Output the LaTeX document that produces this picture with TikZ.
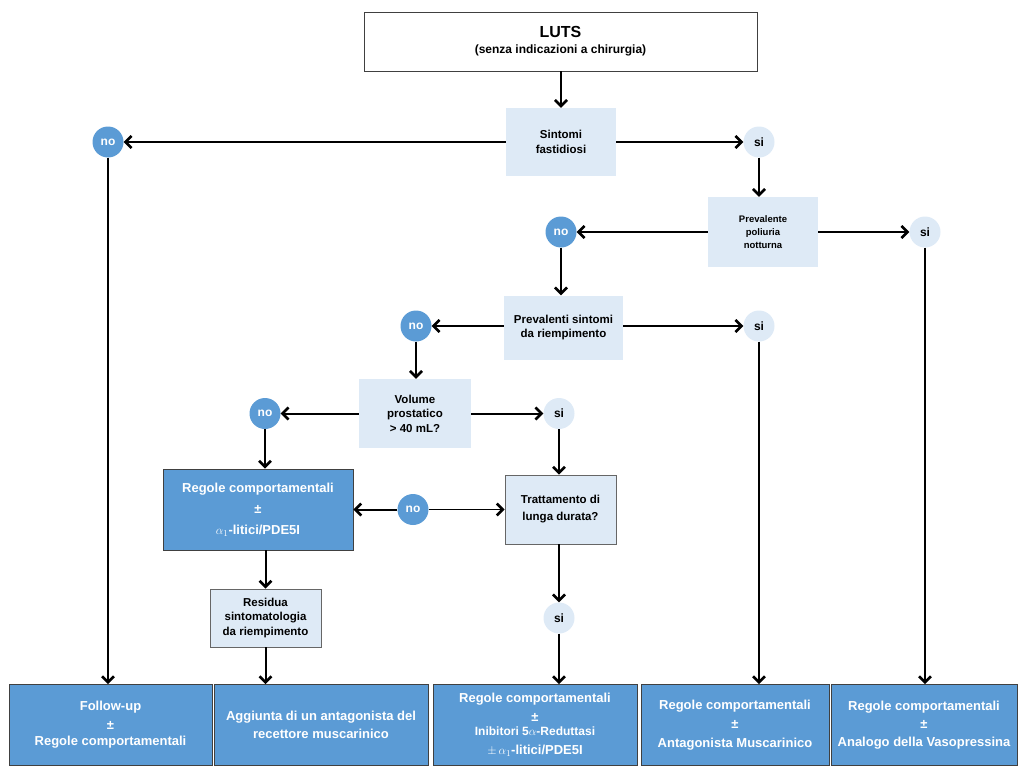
\documentclass[tikz,border=0pt]{standalone}
\usepackage{fontspec}
\setmainfont{Liberation Sans}
\usetikzlibrary{arrows.meta}
\definecolor{midblue}{RGB}{91,155,213}
\definecolor{paleblue}{RGB}{222,234,246}
\definecolor{edgegray}{RGB}{64,64,64}
\begin{document}
\begin{tikzpicture}[x=1pt,y=-1pt,
  >={Straight Barb[length=6pt,width=12pt,line width=2.6pt]},
  every node/.style={font=\bfseries,align=center,inner sep=0pt},
  ask/.style={fill=paleblue,font=\bfseries\fontsize{11.5}{14.5}\selectfont},
  askline/.style={ask,draw=edgegray!80,line width=0.8pt},
  act/.style={fill=midblue,draw=edgegray,line width=0.8pt,text=white,font=\bfseries\fontsize{13}{19}\selectfont},
  nobub/.style={circle,fill=midblue,text=white,minimum size=31pt,font=\bfseries\fontsize{12}{14}\selectfont},
  sibub/.style={circle,fill=paleblue,minimum size=31pt,font=\bfseries\fontsize{12}{14}\selectfont},
  heavy/.style={line width=2.8pt,->},
  medium/.style={line width=2pt,->},
  light/.style={line width=1.3pt,->}]
\useasboundingbox (0,0) rectangle (1024,773);
% questions
\node[draw=edgegray,line width=0.8pt,fill=white,minimum width=393pt,minimum height=59pt] (luts) at (560.5,41.5)
  {{\fontsize{16}{18}\selectfont LUTS}\\[4pt]{\fontsize{12}{14}\selectfont (senza indicazioni a chirurgia)}};
\node[ask,minimum width=110pt,minimum height=68pt] (sintomi) at (561,142) {Sintomi\\fastidiosi};
\node[ask,minimum width=110pt,minimum height=70pt,font=\bfseries\fontsize{9.5}{13}\selectfont] (poliuria) at (763,232) {Prevalente\\poliuria\\notturna};
\node[ask,minimum width=119pt,minimum height=64pt] (riemp) at (563.5,327.5) {Prevalenti sintomi\\da riempimento};
\node[ask,minimum width=112pt,minimum height=69pt] (volume) at (415,413.5) {Volume\\prostatico\\> 40 mL?};
\node[askline,minimum width=111pt,minimum height=69pt,font=\bfseries\fontsize{11.5}{17}\selectfont] (tratt) at (560.5,509.5) {Trattamento di\\lunga durata?};
\node[askline,minimum width=111pt,minimum height=58pt] (residua) at (265.5,618) {Residua\\sintomatologia\\da riempimento};
% answers
\node[nobub] (no1) at (108,142) {no};
\node[sibub] (si1) at (759,142) {si};
\node[nobub] (no2) at (561,232) {no};
\node[sibub] (si2) at (925,232) {si};
\node[nobub] (no3) at (416,326) {no};
\node[sibub] (si3) at (759,326) {si};
\node[nobub] (no4) at (265,413.5) {no};
\node[sibub] (si4) at (559,413.5) {si};
\node[nobub] (no5) at (413,509.5) {no};
\node[sibub] (si5) at (559,618) {si};
% treatments
\node[act,minimum width=190pt,minimum height=81pt] (regole) at (258,509.5)
  {Regole comportamentali\\[2pt]±\\[2pt]$\alpha_1$-litici/PDE5I};
\node[act,minimum width=203pt,minimum height=81pt] (followup) at (110.5,725)
  {Follow-up\\±\\[-3pt]Regole comportamentali};
\node[act,minimum width=214pt,minimum height=81pt] (aggiunta) at (321,725)
  {Aggiunta di un antagonista del\\[-1pt]recettore muscarinico};
\node[act,minimum width=204pt,minimum height=81pt] (inibitori) at (535,725)
  {Regole comportamentali\\±\\[-5pt]\fontsize{12}{13}\selectfont Inibitori 5$\alpha$-Reduttasi\\$\pm\,\alpha_1$-litici/PDE5I};
\node[act,minimum width=188pt,minimum height=81pt] (antag) at (735,725)
  {Regole comportamentali\\±\\Antagonista Muscarinico};
\node[act,minimum width=186pt,minimum height=81pt] (vaso) at (924,725)
  {Regole comportamentali\\[-1pt]±\\[-1pt]Analogo della Vasopressina};
% connectors
\draw[light] (luts.south -| sintomi.north) -- (sintomi.north);
\draw[heavy] (sintomi) -- (no1);
\draw[medium] (sintomi) -- (si1);
\draw[light] (si1) -- (si1 |- poliuria.north);
\draw[heavy] (poliuria) -- (no2);
\draw[heavy] (poliuria) -- (si2);
\draw[heavy] (no2) -- (no2 |- riemp.north);
\draw[medium] (riemp.west |- no3) -- (no3);
\draw[heavy] (riemp.east |- si3) -- (si3);
\draw[heavy] (no3) -- (no3 |- volume.north);
\draw[medium] (volume) -- (no4);
\draw[medium] (volume) -- (si4);
\draw[medium] (no4) -- (no4 |- regole.north);
\draw[medium] (si4) -- (si4 |- tratt.north);
\draw[medium] (no5) -- (regole);
\draw[line width=0.8pt,->] (no5) -- (tratt);
\draw[heavy] (tratt.south -| si5) -- (si5);
\draw[medium] (regole.south -| residua) -- (residua);
\draw[heavy] (no1) -- (no1 |- followup.north);
\draw[medium] (residua) -- (residua |- aggiunta.north);
\draw[heavy] (si5) -- (si5 |- inibitori.north);
\draw[medium] (si3) -- (si3 |- antag.north);
\draw[heavy] (si2) -- (si2 |- vaso.north);
\end{tikzpicture}
\end{document}
